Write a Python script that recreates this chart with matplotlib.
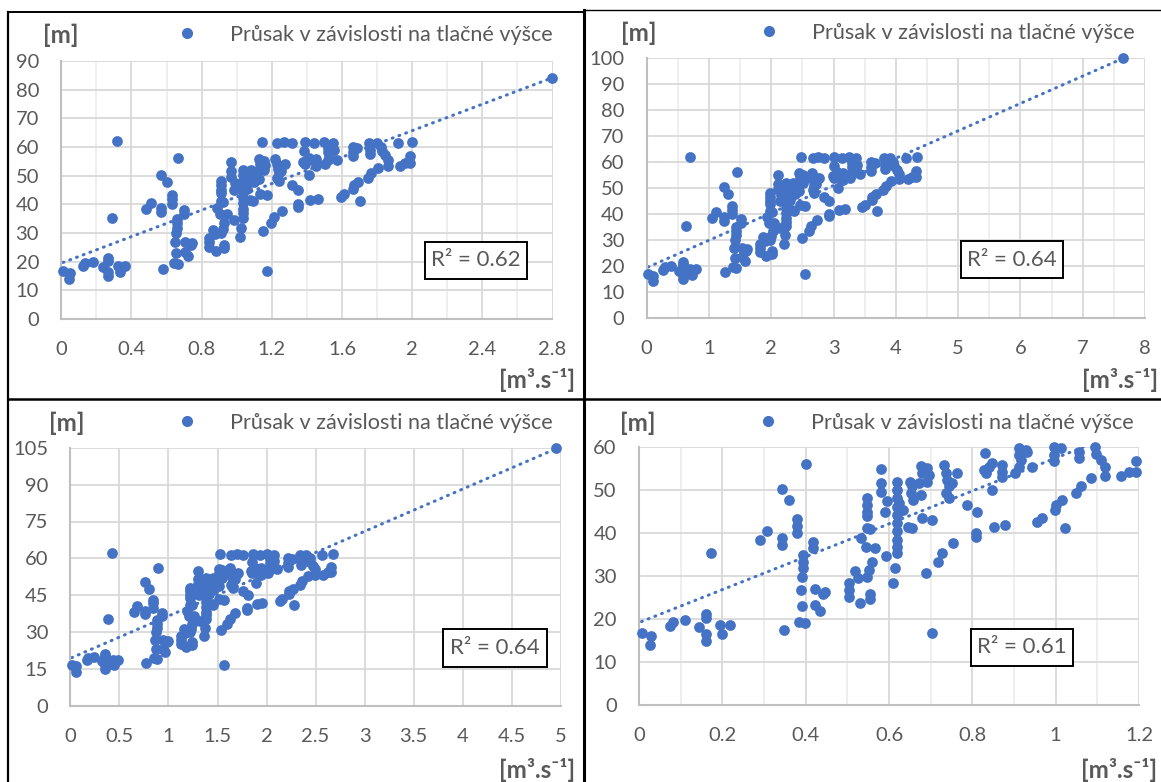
import numpy as np
import matplotlib
matplotlib.use("Agg")
import matplotlib.pyplot as plt
from matplotlib.lines import Line2D
from matplotlib.patches import Rectangle
from matplotlib.ticker import MultipleLocator, FuncFormatter

plt.rcParams['font.family'] = ['Lato', 'DejaVu Sans']

# ---------------- data ----------------
SERIES_LABEL = "Průsak v závislosti na tlačné výšce"
Y_UNIT = "[m]"
X_UNIT = "[m³.s⁻¹]"
R2_TEXT = ["R² = 0.62", "R² = 0.64", "R² = 0.64", "R² = 0.61"]

# pressure head H [m] (shared by the four panels)
H = [16.7, 16.1, 14.0, 18.5, 19.4, 19.8, 18.1, 21.3, 20.2, 16.5,
     15.0, 35.3, 18.6, 16.5, 18.6, 38.4, 40.6, 50.4, 38.8, 37.3,
     17.5, 47.7, 43.2, 41.7, 40.0, 56.1, 38.0, 36.5, 34.9, 33.4,
     31.8, 29.9, 26.8, 23.1, 19.4, 19.2, 26.9, 25.9, 26.4, 23.3,
     22.0, 28.3, 26.8, 25.2, 31.1, 29.5, 23.8, 29.9, 31.4, 33.4,
     25.9, 24.6, 38.8, 36.7, 36.5, 34.6, 48.1, 46.6, 45.0, 43.9,
     41.1, 40.9, 54.9, 51.6, 49.7, 47.4, 45.0, 31.8, 28.5, 52.0,
     50.1, 48.1, 46.2, 44.3, 42.3, 40.4, 38.4, 36.9, 35.3, 47.0,
     45.4, 41.5, 41.1, 52.0, 50.9, 49.3, 47.7, 55.7, 54.0, 51.6,
     48.9, 43.5, 30.7, 16.8, 55.1, 53.6, 52.0, 43.1, 33.4, 35.5,
     37.7, 55.9, 53.9, 52.4, 50.9, 49.3, 48.1, 51.6, 53.9, 46.6,
     45.0, 40.0, 39.2, 58.6, 54.7, 53.9, 55.5, 56.3, 50.1, 41.5,
     41.9, 55.9, 54.3, 53.2, 53.9, 55.5, 59.8, 59.4, 58.1, 57.1,
     59.0, 55.5, 42.7, 43.5, 60.0, 59.8, 58.1, 56.7, 45.4, 46.6,
     47.7, 41.1, 49.3, 50.9, 59.0, 57.5, 52.8, 60.0, 58.5, 57.1,
     55.5, 53.3, 53.3, 54.3, 56.7, 54.3, 61.8, 61.5, 61.8, 61.5,
     61.8, 61.5, 61.8, 61.5, 61.5, 61.5, 61.5, 61.8, 62.0]

# seepage Q [m3/s], one list per panel
Q_A = [0.010, 0.047, 0.043, 0.123, 0.137, 0.183, 0.238, 0.267, 0.267, 0.267,
       0.267, 0.287, 0.323, 0.333, 0.363, 0.483, 0.510, 0.570, 0.570, 0.570,
       0.578, 0.602, 0.630, 0.633, 0.633, 0.667, 0.697, 0.697, 0.657, 0.657,
       0.657, 0.653, 0.648, 0.653, 0.640, 0.663, 0.703, 0.737, 0.743, 0.703,
       0.723, 0.840, 0.840, 0.840, 0.863, 0.877, 0.883, 0.910, 0.920, 0.930,
       0.925, 0.925, 0.887, 0.907, 0.943, 0.987, 0.910, 0.910, 0.910, 0.910,
       0.910, 0.923, 0.968, 0.968, 0.968, 0.990, 0.983, 1.023, 1.017, 1.033,
       1.033, 1.033, 1.033, 1.033, 1.033, 1.033, 1.033, 1.033, 1.033, 1.040,
       1.057, 1.077, 1.090, 1.083, 1.090, 1.088, 1.097, 1.128, 1.130, 1.120,
       1.128, 1.130, 1.147, 1.170, 1.153, 1.160, 1.153, 1.173, 1.197, 1.213,
       1.257, 1.220, 1.227, 1.233, 1.240, 1.227, 1.240, 1.253, 1.273, 1.313,
       1.350, 1.347, 1.347, 1.383, 1.380, 1.387, 1.400, 1.410, 1.413, 1.420,
       1.463, 1.453, 1.453, 1.453, 1.503, 1.520, 1.520, 1.547, 1.520, 1.527,
       1.553, 1.573, 1.593, 1.610, 1.660, 1.687, 1.660, 1.660, 1.663, 1.667,
       1.693, 1.703, 1.747, 1.767, 1.760, 1.760, 1.808, 1.823, 1.827, 1.847,
       1.865, 1.865, 1.928, 1.962, 1.988, 1.988, 1.142, 1.227, 1.270, 1.313,
       1.388, 1.442, 1.497, 1.548, 1.753, 1.797, 1.920, 2.000, 0.317]

Q_B = [0.022, 0.101, 0.094, 0.268, 0.297, 0.398, 0.518, 0.579, 0.579, 0.579,
       0.579, 0.623, 0.702, 0.724, 0.789, 1.050, 1.108, 1.238, 1.238, 1.238,
       1.256, 1.307, 1.368, 1.376, 1.376, 1.448, 1.513, 1.513, 1.426, 1.426,
       1.426, 1.419, 1.408, 1.419, 1.390, 1.441, 1.528, 1.600, 1.615, 1.528,
       1.571, 1.824, 1.824, 1.824, 1.875, 1.904, 1.919, 1.977, 1.998, 2.020,
       2.009, 2.009, 1.926, 1.969, 2.049, 2.143, 1.977, 1.977, 1.977, 1.977,
       1.977, 2.005, 2.103, 2.103, 2.103, 2.150, 2.136, 2.223, 2.208, 2.244,
       2.244, 2.244, 2.244, 2.244, 2.244, 2.244, 2.244, 2.244, 2.244, 2.259,
       2.295, 2.339, 2.367, 2.353, 2.367, 2.364, 2.382, 2.451, 2.454, 2.433,
       2.451, 2.454, 2.491, 2.541, 2.505, 2.520, 2.505, 2.548, 2.599, 2.635,
       2.729, 2.650, 2.664, 2.679, 2.693, 2.664, 2.693, 2.722, 2.766, 2.853,
       2.932, 2.925, 2.925, 3.005, 2.997, 3.012, 3.041, 3.063, 3.070, 3.084,
       3.178, 3.157, 3.157, 3.157, 3.265, 3.301, 3.301, 3.359, 3.301, 3.316,
       3.374, 3.417, 3.461, 3.497, 3.606, 3.663, 3.606, 3.606, 3.613, 3.620,
       3.678, 3.700, 3.794, 3.837, 3.823, 3.823, 3.928, 3.960, 3.968, 4.011,
       4.051, 4.051, 4.188, 4.261, 4.319, 4.319, 2.480, 2.664, 2.758, 2.853,
       3.015, 3.131, 3.251, 3.363, 3.808, 3.902, 4.170, 4.344, 0.688]

Q_C = [0.013, 0.062, 0.058, 0.165, 0.183, 0.245, 0.319, 0.357, 0.357, 0.357,
       0.357, 0.384, 0.433, 0.446, 0.486, 0.647, 0.682, 0.763, 0.763, 0.763,
       0.774, 0.805, 0.843, 0.847, 0.847, 0.892, 0.932, 0.932, 0.879, 0.879,
       0.879, 0.874, 0.867, 0.874, 0.856, 0.888, 0.941, 0.986, 0.995, 0.941,
       0.968, 1.124, 1.124, 1.124, 1.155, 1.173, 1.182, 1.218, 1.231, 1.244,
       1.238, 1.238, 1.186, 1.213, 1.262, 1.320, 1.218, 1.218, 1.218, 1.218,
       1.218, 1.235, 1.296, 1.296, 1.296, 1.325, 1.316, 1.369, 1.360, 1.383,
       1.383, 1.383, 1.383, 1.383, 1.383, 1.383, 1.383, 1.383, 1.383, 1.392,
       1.414, 1.441, 1.458, 1.450, 1.458, 1.456, 1.467, 1.510, 1.512, 1.499,
       1.510, 1.512, 1.534, 1.565, 1.543, 1.552, 1.543, 1.570, 1.601, 1.623,
       1.681, 1.632, 1.641, 1.650, 1.659, 1.641, 1.659, 1.677, 1.704, 1.757,
       1.806, 1.802, 1.802, 1.851, 1.846, 1.855, 1.873, 1.887, 1.891, 1.900,
       1.958, 1.945, 1.945, 1.945, 2.011, 2.034, 2.034, 2.069, 2.034, 2.043,
       2.078, 2.105, 2.132, 2.154, 2.221, 2.257, 2.221, 2.221, 2.226, 2.230,
       2.266, 2.279, 2.337, 2.364, 2.355, 2.355, 2.420, 2.440, 2.444, 2.471,
       2.495, 2.495, 2.580, 2.625, 2.660, 2.660, 1.528, 1.641, 1.699, 1.757,
       1.858, 1.929, 2.003, 2.072, 2.346, 2.404, 2.569, 2.676, 0.424]

Q_D = [0.006, 0.028, 0.026, 0.074, 0.082, 0.110, 0.143, 0.160, 0.160, 0.160,
       0.160, 0.172, 0.194, 0.200, 0.218, 0.290, 0.306, 0.342, 0.342, 0.342,
       0.347, 0.361, 0.378, 0.380, 0.380, 0.400, 0.418, 0.418, 0.394, 0.394,
       0.394, 0.392, 0.389, 0.392, 0.384, 0.398, 0.422, 0.442, 0.446, 0.422,
       0.434, 0.504, 0.504, 0.504, 0.518, 0.526, 0.530, 0.546, 0.552, 0.558,
       0.555, 0.555, 0.532, 0.544, 0.566, 0.592, 0.546, 0.546, 0.546, 0.546,
       0.546, 0.554, 0.581, 0.581, 0.581, 0.594, 0.590, 0.614, 0.610, 0.620,
       0.620, 0.620, 0.620, 0.620, 0.620, 0.620, 0.620, 0.620, 0.620, 0.624,
       0.634, 0.646, 0.654, 0.650, 0.654, 0.653, 0.658, 0.677, 0.678, 0.672,
       0.677, 0.678, 0.688, 0.702, 0.692, 0.696, 0.692, 0.704, 0.718, 0.728,
       0.754, 0.732, 0.736, 0.740, 0.744, 0.736, 0.744, 0.752, 0.764, 0.788,
       0.810, 0.808, 0.808, 0.830, 0.828, 0.832, 0.840, 0.846, 0.848, 0.852,
       0.878, 0.872, 0.872, 0.872, 0.902, 0.912, 0.912, 0.928, 0.912, 0.916,
       0.932, 0.944, 0.956, 0.966, 0.996, 1.012, 0.996, 0.996, 0.998, 1.000,
       1.016, 1.022, 1.048, 1.060, 1.056, 1.056, 1.085, 1.094, 1.096, 1.108,
       1.119, 1.119, 1.157, 1.177, 1.193, 1.193, 0.685, 0.736, 0.762, 0.788,
       0.833, 0.865, 0.898, 0.929, 1.052, 1.078, 1.152, 1.200, 0.190]

# the single extreme measurement of each panel
EXTREME_Q = [2.80, 7.65, 4.95, 1.68]
EXTREME_H = [84.0, 100.0, 105.0, 84.0]

# linear trendlines (intercept, slope)
TREND_B = [19.5, 19.3, 19.4, 19.2]
TREND_K = [23.1, 10.55, 17.2, 38.3]

X_MAX = [2.8, 8, 5, 1.2]
X_MAJOR = [0.4, 1, 0.5, 0.2]
X_MINOR = [0.2, 0.5, None, 0.1]
Y_MAX = [90, 100, 105, 60]
Y_MAJOR = [10, 10, 15, 10]

# ---------------- layout (pixels of the 1161x782 canvas) ----------------
W, HH = 1161, 782
AX_PX = [(61.3, 61.0, 552.5, 319.0),
         (646.7, 58.3, 1145.0, 317.7),
         (70.4, 447.7, 560.8, 706.0),
         (639.0, 447.3, 1139.0, 705.0)]
LEG_PX = [(187, 35), (769, 33), (187, 423), (768, 423)]
YUNIT_PX = [(43, 35), (621, 33), (49, 423), (620, 423)]
XUNIT_PX = [(575, 380), (1158, 380), (575, 770), (1157, 770)]
R2_BOX_PX = [(424.5, 242, 527, 279), (960.5, 240.7, 1062.8, 278.3),
             (443, 629, 546.5, 667), (971, 628.7, 1073, 666)]

BLUE = '#4472C4'
TXT = '#595959'
LEG_FS = 15.6


def fx(x):
    return x / W


def fy(y):
    return 1 - y / HH


fig = plt.figure(figsize=(W / 100, HH / 100), dpi=100)
fig.patch.set_facecolor('white')

fmt = FuncFormatter(lambda v, p: f"{v:g}")
Hs = np.array(H)
for i, Q in enumerate([Q_A, Q_B, Q_C, Q_D]):
    x0, y0, x1, y1 = AX_PX[i]
    ax = fig.add_axes([fx(x0), fy(y1), (x1 - x0) / W, (y1 - y0) / HH])
    ax.set_xlim(0, X_MAX[i])
    ax.set_ylim(0, Y_MAX[i])
    ax.xaxis.set_major_locator(MultipleLocator(X_MAJOR[i]))
    if X_MINOR[i]:
        ax.xaxis.set_minor_locator(MultipleLocator(X_MINOR[i]))
    ax.yaxis.set_major_locator(MultipleLocator(Y_MAJOR[i]))
    ax.xaxis.set_major_formatter(fmt)
    ax.yaxis.set_major_formatter(fmt)
    ax.grid(which='major', color='#d9d9d9', lw=1.3)
    ax.grid(which='minor', axis='x', color='#ebebeb', lw=1.1)
    ax.set_axisbelow(True)
    for s in ('top', 'right'):
        ax.spines[s].set_visible(False)
    for s in ('left', 'bottom'):
        ax.spines[s].set_color('#bfbfbf')
        ax.spines[s].set_linewidth(1.5)
    ax.tick_params(which='both', length=0, labelsize=14.5, colors=TXT, pad=16)

    q_all = np.append(np.array(Q), EXTREME_Q[i])
    h_all = np.append(Hs, EXTREME_H[i])
    vis = h_all <= Y_MAX[i] + 0.5
    ax.scatter(q_all[vis], h_all[vis], s=60, color=BLUE, linewidths=0,
               zorder=3, clip_on=False)
    xs = np.array([q_all.min(), q_all.max()])
    ax.plot(xs, TREND_B[i] + TREND_K[i] * xs, color=BLUE, lw=2.2,
            linestyle=(0, (0.3, 2.05)), dash_capstyle='round', zorder=2)

    handle = Line2D([], [], marker='o', ls='', color=BLUE, markersize=8,
                    markeredgewidth=0)
    lx, ly = LEG_PX[i]
    hl = 1.0
    ax.legend([handle], [SERIES_LABEL], loc='center left',
              bbox_to_anchor=(fx(lx - 0.5 * hl * LEG_FS * 100 / 72), fy(ly)),
              bbox_transform=fig.transFigure, frameon=False, fontsize=LEG_FS,
              handlelength=hl, handletextpad=(42.6 - 0.5 * LEG_FS * 100 / 72) / (LEG_FS * 100 / 72),
              borderpad=0, borderaxespad=0, labelcolor=TXT)

    ux, uy = YUNIT_PX[i]
    fig.text(fx(ux), fy(uy), Y_UNIT, ha='left', va='center', fontsize=17.5,
             fontweight='bold', color=TXT)
    vx, vy = XUNIT_PX[i]
    fig.text(fx(vx), fy(vy), X_UNIT, ha='right', va='center', fontsize=17.5,
             fontweight='bold', color=TXT)

    bx0, by0, bx1, by1 = R2_BOX_PX[i]
    fig.add_artist(Rectangle((fx(bx0), fy(by1)), (bx1 - bx0) / W,
                             (by1 - by0) / HH, transform=fig.transFigure,
                             facecolor='white', edgecolor='black', lw=1.4,
                             zorder=5))
    fig.text(fx((bx0 + bx1) / 2), fy((by0 + by1) / 2), R2_TEXT[i],
             ha='center', va='center', fontsize=16, color=TXT, zorder=6)

# panel frames
def fline(xa, ya, xb, yb, lw):
    fig.add_artist(Line2D([fx(xa), fx(xb)], [fy(ya), fy(yb)],
                          transform=fig.transFigure, color='black', lw=lw))

fline(7.5, 11.7, 584, 11.7, 1.4)
fline(7.5, 11.7, 7.5, 782, 1.6)
fline(584, 10, 1161, 10, 1.0)
fline(584, 10, 584, 782, 2.2)
fline(7.5, 399, 1161, 399, 1.8)

fig.savefig('out.png', dpi=100, facecolor='white')
